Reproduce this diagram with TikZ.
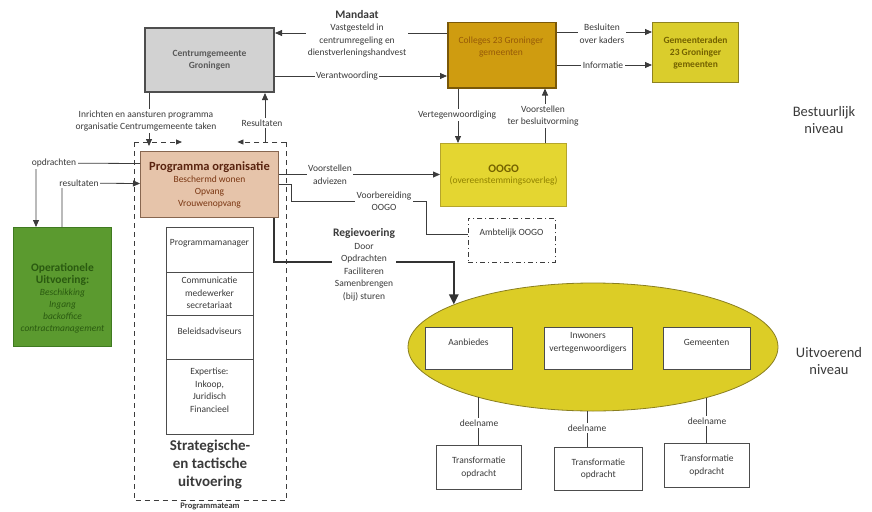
\documentclass[tikz,border=0pt]{standalone}
\usepackage{fontspec}
\setmainfont{Carlito}
\usetikzlibrary{arrows.meta,shapes.geometric,calc}
\definecolor{txtc}{HTML}{3A3A3A}
\definecolor{linec}{HTML}{3C3C3C}
\definecolor{cgfill}{HTML}{D2D2D2}
\definecolor{cgdraw}{HTML}{4E4E4E}
\definecolor{colfill}{HTML}{CF9C10}
\definecolor{coldraw}{HTML}{7A5808}
\definecolor{coltxt}{HTML}{965A08}
\definecolor{grfill}{HTML}{DACD2C}
\definecolor{grdraw}{HTML}{8E8220}
\definecolor{grtxt}{HTML}{746200}
\definecolor{oofill}{HTML}{E4D631}
\definecolor{oodraw}{HTML}{B5A52C}
\definecolor{pgfillc}{HTML}{E6C4AA}
\definecolor{pgdraw}{HTML}{876650}
\definecolor{pgtxt}{HTML}{5A2410}
\definecolor{pgsub}{HTML}{7A3612}
\definecolor{opfill}{HTML}{5B9A2F}
\definecolor{opdraw}{HTML}{3F7A20}
\definecolor{optxt}{HTML}{2A5A10}
\definecolor{elfill}{HTML}{DCCD26}
\definecolor{eldraw}{HTML}{8A7F20}
\tikzset{
  lbl/.style={font=\fontsize{9.5}{12.5}\selectfont, text=txtc, align=center, inner sep=1pt},
  wl/.style={lbl, fill=white, inner sep=1.5pt},
  box/.style={draw=black!70, line width=0.7pt, fill=white, inner sep=0pt, anchor=north west},
  ln/.style={draw=linec, line width=0.8pt},
  arr/.style={ln, -{Triangle[length=7pt,width=6pt]}},
  thickarr/.style={draw=black!80, line width=2.6pt, -{Triangle[length=10pt,width=9pt]}},
  dasharr/.style={draw=linec, line width=0.8pt, dash pattern=on 5pt off 4pt, -{Triangle[length=6pt,width=5pt]}},
  big/.style={font=\fontsize{14.5}{17}\selectfont, text=txtc, align=center}
}
\begin{document}
\begin{tikzpicture}[x=1pt,y=-1pt]
\useasboundingbox (0,0) rectangle (872,511);

% ---- top level boxes
\node[box, fill=cgfill, draw=cgdraw, line width=2pt, minimum width=129pt, minimum height=64pt,
      font=\bfseries\fontsize{9.5}{12.5}\selectfont, text=black!65, align=center] (cg) at (144,27) {Centrumgemeente\\Groningen};
\node[box, fill=colfill, draw=coldraw, line width=1.5pt, minimum width=108pt, minimum height=65pt] (col) at (447,22) {};
\node[lbl, text=coltxt] (colt) at (501,47) {Colleges 23 Groninger\\gemeenten};
\node[box, fill=grfill, draw=grdraw, line width=1.2pt, minimum width=86pt, minimum height=60pt,
      font=\bfseries\fontsize{9.5}{12}\selectfont, text=grtxt, align=center] (gr) at (652,22) {Gemeenteraden\\23 Groninger\\gemeenten};
\node[box, fill=oofill, draw=oodraw, line width=1.2pt, minimum width=126pt, minimum height=63pt, align=center] (oogo) at (440,143)
      {{\bfseries\fontsize{11.5}{14}\selectfont\color{grtxt}OOGO}\\[-1pt]{\fontsize{9.5}{12}\selectfont\color{grtxt!80!yellow}(overeenstemmingsoverleg)}};
\node[box, draw=linec, dash pattern=on 5pt off 3pt on 1pt off 3pt, minimum width=87pt, minimum height=44pt] (amb) at (468,218) {};
\node[lbl] (ambt) at (511.5,233) {Ambtelijk OOGO};

% ---- programma organisatie
\node[box, fill=pgfillc, draw=pgdraw, line width=1pt, minimum width=138pt, minimum height=66pt, align=center] (prog) at (140,151)
      {{\bfseries\fontsize{12.5}{15}\selectfont\color{pgtxt}Programma organisatie}\\
       {\fontsize{9.5}{12}\selectfont\color{pgsub}Beschermd wonen}\\
       {\fontsize{9.5}{12}\selectfont\color{pgsub}Opvang}\\
       {\fontsize{9.5}{12}\selectfont\color{pgsub}Vrouwenopvang}};

% ---- programmateam frame
\node[anchor=north west, minimum width=152pt, minimum height=358pt, inner sep=0pt] (frame) at (134,142) {};
\draw[draw=linec, line width=0.8pt, dash pattern=on 5pt off 4pt]
  (frame.north west) -- (frame.south west) -- (frame.south east) -- (frame.north east);
\draw[dasharr] (frame.north west) -- ++(48,0);
\draw[dasharr] (frame.north east) -- ++(-49,0);

% ---- stack of roles
\node[box, minimum width=87pt, minimum height=45pt] (s1) at (166,227) {};
\node[box, minimum width=87pt, minimum height=43pt] (s2) at (166,272) {};
\node[box, minimum width=87pt, minimum height=44pt] (s3) at (166,315) {};
\node[box, minimum width=87pt, minimum height=75pt] (s4) at (166,359) {};
\node[lbl] (s1t) at (209.5,243) {Programmamanager};
\node[lbl] (s2t) at (209.5,293) {Communicatie\\medewerker\\secretariaat};
\node[lbl] (s3t) at (209.5,331) {Beleidsadviseurs};
\node[lbl] (s4t) at (209.5,390) {Expertise:\\Inkoop,\\Juridisch\\Financieel};
\node[font=\bfseries\fontsize{15}{18}\selectfont, text=txtc, align=center] (stt) at (210,465) {Strategische-\\en tactische\\uitvoering};
\node[font=\bfseries\fontsize{8.5}{10}\selectfont, text=txtc] (ptm) at (210,506) {Programmateam};

% ---- operationele uitvoering
\node[box, fill=opfill, draw=opdraw, line width=1pt, minimum width=98pt, minimum height=119pt] (op) at (13,227) {};
\node[align=center, text=optxt, inner sep=0pt] (opt) at (62.5,298)
      {{\bfseries\fontsize{11.5}{14}\selectfont Operationele}\\
       {\bfseries\fontsize{11.5}{14}\selectfont Uitvoering:}\\
       {\itshape\fontsize{9.5}{12}\selectfont Beschikking}\\
       {\itshape\fontsize{9.5}{12}\selectfont Ingang}\\
       {\itshape\fontsize{9.5}{12}\selectfont backoffice}\\
       {\itshape\fontsize{9.5}{12}\selectfont contractmanagement}};

% ---- uitvoerend niveau
\node[ellipse, draw=eldraw, line width=0.8pt, fill=elfill, minimum width=370pt, minimum height=128pt, inner sep=0pt] (ell) at (593,347) {};
\node[box, minimum width=87pt, minimum height=42pt] (ab) at (425,327) {};
\node[box, minimum width=88pt, minimum height=42pt] (inw) at (544,327) {};
\node[box, minimum width=87pt, minimum height=42pt] (gem) at (663,327) {};
\node[lbl] (abt) at (468.5,342) {Aanbiedes};
\node[lbl] (inwt) at (588,343) {Inwoners\\vertegenwoordigers};
\node[lbl] (gemt) at (706.5,342) {Gemeenten};
\node[box, minimum width=85pt, minimum height=44pt, font=\fontsize{9.5}{12.5}\selectfont, text=txtc, align=center] (t1) at (436,445) {Transformatie\\opdracht};
\node[box, minimum width=88pt, minimum height=43pt, font=\fontsize{9.5}{12.5}\selectfont, text=txtc, align=center] (t2) at (554,447) {Transformatie\\opdracht};
\node[box, minimum width=85pt, minimum height=44pt, font=\fontsize{9.5}{12.5}\selectfont, text=txtc, align=center] (t3) at (664,443) {Transformatie\\opdracht};

% ---- level labels
\node[big] (bn) at (824,120) {Bestuurlijk\\niveau};
\node[big] (un) at (829,361) {Uitvoerend\\niveau};

% ---- connectors
\draw[arr] ($(col.north west)+(0,11)$) -- ($(cg.north east)+(0,6)$);
\draw[arr] ($(cg.north east)+(0,49)$) -- ($(col.north west)+(0,54)$);
\draw[arr] ($(col.north east)+(0,10)$) -- ($(gr.north west)+(0,10)$);
\draw[arr] ($(col.north east)+(0,43)$) -- ($(gr.north west)+(0,43)$);
\draw[arr] ($(col.south west)+(11,0)$) -- ($(oogo.north west)+(18,0)$);
\draw[arr] ($(oogo.north west)+(105,0)$) -- ($(col.south west)+(98,0)$);

\coordinate (inA) at ($(cg.south west)+(5,0)$);
\draw[arr] (inA) -- ($(inA |- frame.north)+(0,4)$);
\coordinate (resA) at ($(cg.south east)+(-10,0)$);
\draw[arr] (resA |- frame.north) -- (resA);

\coordinate (va) at ($(prog.east)+(0,-10)$);
\draw[arr] (va) -- (va -| oogo.west);
\draw[ln] (prog.east) -- ++(12,0) -- ++(0,17) -- ++(135,0) |- ($(amb.west)+(0,-6)$);

\draw[thickarr] ($(prog.south east)+(-5,0)$) -- ++(0,44) -| (ell.163.64);

\coordinate (opA) at ($(prog.west)+(0,-21)$);
\draw[arr] (opA) -- (36,163) -- (36 ,227);
\coordinate (reA) at ($(prog.west)+(0,-1)$);
\draw[arr] ($(op.north west)+(49,0)$) -- (62,183) -- (reA);

\draw[ln] (ell.203.85 -| t1.north) -- (t1.north);
\draw[ln] ($(ell.264.6 -| t2.north west)+(33,0)$) -- ($(t2.north west)+(33,0)$);
\draw[ln] (ell.336.15 -| t3.north) -- (t3.north);

% ---- connector labels
\node[wl] (mand) at (357,34) {{\bfseries\fontsize{11.5}{13}\selectfont Mandaat}\\Vastgesteld in\\centrumregeling en\\dienstverleningshandvest};
\node[wl] (ver) at (347,76) {Verantwoording};
\node[wl] (bes) at (602,33.5) {Besluiten\\over kaders};
\node[wl] (inf) at (603,65) {Informatie};
\node[wl] (vtg) at (457,115) {Vertegenwoordiging};
\node[wl] (vtb) at (543,116) {Voorstellen\\ter besluitvorming};
\node[wl] (inr) at (146,121) {Inrichten en aansturen programma\\organisatie Centrumgemeente taken};
\node[wl] (res) at (262,123) {Resultaten};
\node[wl] (vad) at (330,174.5) {Voorstellen\\adviezen};
\node[wl] (vbo) at (384,201) {Voorbereiding\\OOGO};
\node[wl] (regie) at (364,265) {{\bfseries\fontsize{11.5}{13}\selectfont Regievoering}\\Door\\Opdrachten\\Faciliteren\\Samenbrengen\\(bij) sturen};
\node[wl] (opd) at (54,163) {opdrachten};
\node[wl] (rsl) at (79,183) {resultaten};
\node[wl] (d1) at (479,423) {deelname};
\node[wl] (d2) at (587,428) {deelname};
\node[wl] (d3) at (707,421) {deelname};
\end{tikzpicture}
\end{document}
